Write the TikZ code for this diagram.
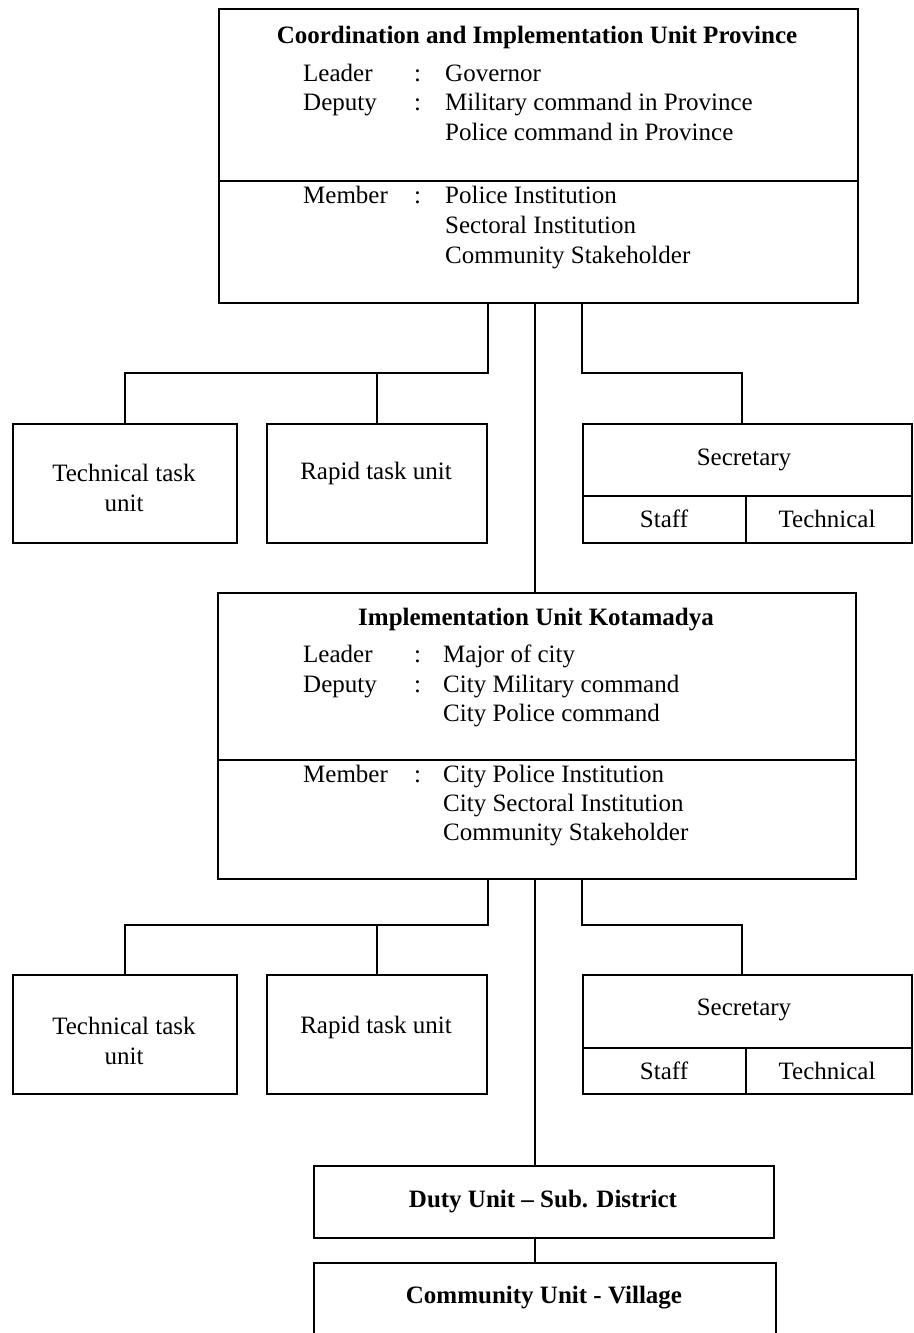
\documentclass[tikz,border=0pt]{standalone}
\usepackage{fontspec}
\setmainfont{Liberation Serif}
\begin{document}
\begin{tikzpicture}[x=1pt,y=-1pt,
  every node/.style={font=\fontsize{25}{30}\selectfont},
  frame/.style={draw, line width=1.8pt, rectangle, inner sep=0pt, anchor=north west},
  link/.style={line width=1.8pt},
  ttl/.style={anchor=base, font=\fontsize{25}{30}\selectfont\bfseries},
  lbl/.style={anchor=base west, inner sep=0pt},
  cell/.style={anchor=center, align=center, inner sep=0pt}]
\clip (0,0) rectangle (913,1333);
\fill[white] (0,0) rectangle (913,1333);

% vertical guide positions of the trunk and the secretary drops
\coordinate (trunk) at (535,0);
\coordinate (secdrop) at (742,0);

% ---------- province level ----------
\node[frame, minimum width=639pt, minimum height=172pt] (provHead) at (218,8) {};
\node[frame, minimum width=639pt, minimum height=122pt] (provMem) at (218,180) {};
\node[ttl] (provTitle) at (537,43) {Coordination and Implementation Unit Province};
\node[lbl] (pL1) at (303,81) {Leader};
\node[lbl] (pC1) at (414,81) {:};
\node[lbl] (pV1) at (445,81) {Governor};
\node[lbl] (pL2) at (303,110) {Deputy};
\node[lbl] (pC2) at (414,110) {:};
\node[lbl] (pV2) at (445,110) {Military command in Province};
\node[lbl] (pV3) at (445,140) {Police command in Province};
\node[lbl] (pL4) at (303,203) {Member};
\node[lbl] (pC4) at (414,203) {:};
\node[lbl] (pV4) at (445,203) {Police Institution};
\node[lbl] (pV5) at (445,233) {Sectoral Institution};
\node[lbl] (pV6) at (445,263) {Community Stakeholder};

\node[frame, minimum width=224pt, minimum height=119pt] (tech1) at (12,423) {};
\node[cell] (tech1T) at (124,488) {Technical task\\unit};
\node[frame, minimum width=220pt, minimum height=119pt] (rapid1) at (266,423) {};
\node[cell] (rapid1T) at (376,473) {Rapid task unit};
\node[frame, minimum width=329pt, minimum height=72pt] (sec1) at (582,423) {};
\node[cell] (sec1T) at (744,460) {Secretary};
\node[frame, minimum width=163pt, minimum height=47pt] (staff1) at (582,495) {};
\node[cell] (staff1T) at (664,519) {Staff};
\node[frame, minimum width=166pt, minimum height=47pt] (techn1) at (745,495) {};
\node[cell] (techn1T) at (827,519) {Technical};

\coordinate (j1) at (0,373);
\draw[link] (provMem.south -| rapid1.east) -- (rapid1.east |- j1) -| (tech1.north);
\draw[link] (rapid1.north) -- (rapid1.north |- j1);
\draw[link] (provMem.south -| sec1.west) -- (sec1.west |- j1) -| (sec1.north -| secdrop);

% ---------- city level ----------
\node[frame, minimum width=638pt, minimum height=167pt] (kotaHead) at (217,592) {};
\node[frame, minimum width=638pt, minimum height=119pt] (kotaMem) at (217,759) {};
\draw[link] (provMem.south -| trunk) -- (kotaHead.north -| trunk);
\node[ttl] (kotaTitle) at (536,625) {Implementation Unit Kotamadya};
\node[lbl] (kL1) at (303,662) {Leader};
\node[lbl] (kC1) at (414,662) {:};
\node[lbl] (kV1) at (443,662) {Major of city};
\node[lbl] (kL2) at (303,692) {Deputy};
\node[lbl] (kC2) at (414,692) {:};
\node[lbl] (kV2) at (443,692) {City Military command};
\node[lbl] (kV3) at (443,721) {City Police command};
\node[lbl] (kL4) at (303,782) {Member};
\node[lbl] (kC4) at (414,782) {:};
\node[lbl] (kV4) at (443,782) {City Police Institution};
\node[lbl] (kV5) at (443,811) {City Sectoral Institution};
\node[lbl] (kV6) at (443,840) {Community Stakeholder};

\node[frame, minimum width=224pt, minimum height=119pt] (tech2) at (12,974) {};
\node[cell] (tech2T) at (124,1041) {Technical task\\unit};
\node[frame, minimum width=220pt, minimum height=119pt] (rapid2) at (266,974) {};
\node[cell] (rapid2T) at (376,1027) {Rapid task unit};
\node[frame, minimum width=329pt, minimum height=73pt] (sec2) at (582,974) {};
\node[cell] (sec2T) at (744,1010) {Secretary};
\node[frame, minimum width=163pt, minimum height=46pt] (staff2) at (582,1047) {};
\node[cell] (staff2T) at (664,1071) {Staff};
\node[frame, minimum width=166pt, minimum height=46pt] (techn2) at (745,1047) {};
\node[cell] (techn2T) at (827,1071) {Technical};

\coordinate (j2) at (0,925);
\draw[link] (kotaMem.south -| rapid2.east) -- (rapid2.east |- j2) -| (tech2.north);
\draw[link] (rapid2.north) -- (rapid2.north |- j2);
\draw[link] (kotaMem.south -| sec2.west) -- (sec2.west |- j2) -| (sec2.north -| secdrop);

% ---------- sub-district and village ----------
\node[frame, minimum width=460pt, minimum height=72pt] (duty) at (313,1165) {};
\node[cell, font=\fontsize{25}{30}\selectfont\bfseries] (dutyT) at (543,1202) {Duty Unit -- Sub. District};
\node[frame, minimum width=462pt, minimum height=100pt] (village) at (313,1262) {};
\node[cell, font=\fontsize{25}{30}\selectfont\bfseries] (villageT) at (544,1298) {Community Unit - Village};

\draw[link] (kotaMem.south -| trunk) -- (duty.north -| trunk);
\draw[link] (duty.south -| trunk) -- (village.north -| trunk);
\end{tikzpicture}
\end{document}
